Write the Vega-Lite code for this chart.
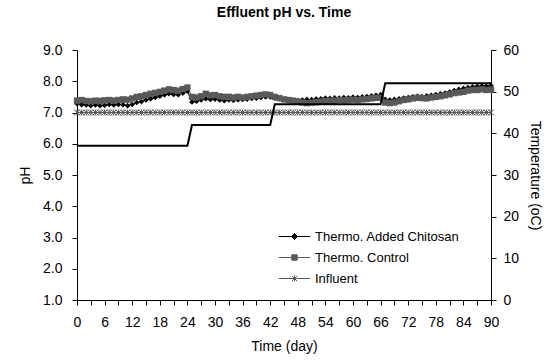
{
  "$schema": "https://vega.github.io/schema/vega-lite/v6.json",
  "width": 414,
  "height": 250,
  "autosize": "none",
  "padding": {"left": 77, "top": 50, "right": 54, "bottom": 62},
  "background": "white",
  "title": {"text": "Effluent pH vs. Time", "font": "Liberation Sans", "fontSize": 14, "fontWeight": "bold", "color": "black", "offset": 23, "anchor": "middle"},
  "config": {
    "view": {"stroke": null},
    "axis": {"labelFont": "Liberation Sans", "titleFont": "Liberation Sans", "labelFontSize": 14, "titleFontSize": 14, "titleFontWeight": "normal", "labelColor": "black", "titleColor": "black", "domainColor": "black", "tickColor": "black", "grid": false, "domainWidth": 1, "tickWidth": 1}
  },
  "datasets": {
    "ph": [
      {"day":0,"c":7.28,"k":7.38,"i":7.0},{"day":1,"c":7.25,"k":7.40,"i":7.0},{"day":2,"c":7.24,"k":7.37,"i":7.0},{"day":3,"c":7.22,"k":7.36,"i":7.0},{"day":4,"c":7.24,"k":7.38,"i":7.0},{"day":5,"c":7.22,"k":7.37,"i":7.0},{"day":6,"c":7.23,"k":7.39,"i":7.0},{"day":7,"c":7.26,"k":7.40,"i":7.0},{"day":8,"c":7.24,"k":7.38,"i":7.0},{"day":9,"c":7.26,"k":7.40,"i":7.0},
      {"day":10,"c":7.25,"k":7.42,"i":7.0},{"day":11,"c":7.22,"k":7.41,"i":7.0},{"day":12,"c":7.26,"k":7.45,"i":7.0},{"day":13,"c":7.32,"k":7.50,"i":7.0},{"day":14,"c":7.35,"k":7.52,"i":7.0},{"day":15,"c":7.40,"k":7.56,"i":7.0},{"day":16,"c":7.44,"k":7.60,"i":7.0},{"day":17,"c":7.48,"k":7.63,"i":7.0},{"day":18,"c":7.52,"k":7.66,"i":7.0},{"day":19,"c":7.56,"k":7.70,"i":7.0},
      {"day":20,"c":7.60,"k":7.74,"i":7.0},{"day":21,"c":7.58,"k":7.72,"i":7.0},{"day":22,"c":7.57,"k":7.70,"i":7.0},{"day":23,"c":7.62,"k":7.75,"i":7.0},{"day":24,"c":7.68,"k":7.80,"i":7.0},{"day":25,"c":7.34,"k":7.50,"i":7.0},{"day":26,"c":7.36,"k":7.48,"i":7.0},{"day":27,"c":7.40,"k":7.52,"i":7.0},{"day":28,"c":7.44,"k":7.60,"i":7.0},{"day":29,"c":7.42,"k":7.55,"i":7.0},
      {"day":30,"c":7.43,"k":7.56,"i":7.0},{"day":31,"c":7.40,"k":7.52,"i":7.0},{"day":32,"c":7.38,"k":7.50,"i":7.0},{"day":33,"c":7.40,"k":7.50,"i":7.0},{"day":34,"c":7.39,"k":7.48,"i":7.0},{"day":35,"c":7.41,"k":7.50,"i":7.0},{"day":36,"c":7.42,"k":7.48,"i":7.0},{"day":37,"c":7.43,"k":7.50,"i":7.0},{"day":38,"c":7.45,"k":7.52,"i":7.0},{"day":39,"c":7.46,"k":7.54,"i":7.0},
      {"day":40,"c":7.48,"k":7.56,"i":7.0},{"day":41,"c":7.50,"k":7.58,"i":7.0},{"day":42,"c":7.50,"k":7.56,"i":7.0},{"day":43,"c":7.46,"k":7.50,"i":7.0},{"day":44,"c":7.44,"k":7.46,"i":7.0},{"day":45,"c":7.42,"k":7.42,"i":7.0},{"day":46,"c":7.40,"k":7.40,"i":7.0},{"day":47,"c":7.39,"k":7.38,"i":7.0},{"day":48,"c":7.38,"k":7.35,"i":7.0},{"day":49,"c":7.40,"k":7.32,"i":7.0},
      {"day":50,"c":7.42,"k":7.30,"i":7.0},{"day":51,"c":7.41,"k":7.32,"i":7.0},{"day":52,"c":7.43,"k":7.33,"i":7.0},{"day":53,"c":7.44,"k":7.35,"i":7.0},{"day":54,"c":7.46,"k":7.36,"i":7.0},{"day":55,"c":7.45,"k":7.38,"i":7.0},{"day":56,"c":7.47,"k":7.38,"i":7.0},{"day":57,"c":7.46,"k":7.40,"i":7.0},{"day":58,"c":7.48,"k":7.39,"i":7.0},{"day":59,"c":7.47,"k":7.40,"i":7.0},
      {"day":60,"c":7.49,"k":7.41,"i":7.0},{"day":61,"c":7.48,"k":7.40,"i":7.0},{"day":62,"c":7.50,"k":7.42,"i":7.0},{"day":63,"c":7.51,"k":7.43,"i":7.0},{"day":64,"c":7.53,"k":7.45,"i":7.0},{"day":65,"c":7.55,"k":7.47,"i":7.0},{"day":66,"c":7.57,"k":7.48,"i":7.0},{"day":67,"c":7.42,"k":7.32,"i":7.0},{"day":68,"c":7.40,"k":7.30,"i":7.0},{"day":69,"c":7.42,"k":7.32,"i":7.0},
      {"day":70,"c":7.44,"k":7.36,"i":7.0},{"day":71,"c":7.46,"k":7.40,"i":7.0},{"day":72,"c":7.48,"k":7.42,"i":7.0},{"day":73,"c":7.50,"k":7.45,"i":7.0},{"day":74,"c":7.52,"k":7.47,"i":7.0},{"day":75,"c":7.51,"k":7.46,"i":7.0},{"day":76,"c":7.53,"k":7.45,"i":7.0},{"day":77,"c":7.55,"k":7.48,"i":7.0},{"day":78,"c":7.57,"k":7.50,"i":7.0},{"day":79,"c":7.60,"k":7.52,"i":7.0},
      {"day":80,"c":7.62,"k":7.55,"i":7.0},{"day":81,"c":7.66,"k":7.58,"i":7.0},{"day":82,"c":7.70,"k":7.62,"i":7.0},{"day":83,"c":7.74,"k":7.64,"i":7.0},{"day":84,"c":7.77,"k":7.66,"i":7.0},{"day":85,"c":7.80,"k":7.70,"i":7.0},{"day":86,"c":7.82,"k":7.72,"i":7.0},{"day":87,"c":7.84,"k":7.72,"i":7.0},{"day":88,"c":7.85,"k":7.74,"i":7.0},{"day":89,"c":7.84,"k":7.72,"i":7.0},
      {"day":90,"c":7.86,"k":7.73,"i":7.0}
    ],
    "temp": [
      {"day":0,"T":37},{"day":24,"T":37},{"day":25,"T":42},{"day":42,"T":42},{"day":43,"T":47},{"day":66,"T":47},{"day":67,"T":52},{"day":90,"T":52}
    ]
  },
  "layer": [
    {
      "data": {"name": "ph"},
      "transform": [{"fold": ["c", "k", "i"], "as": ["s", "pH"]}],
      "encoding": {
        "x": {"field": "day", "type": "quantitative", "scale": {"domain": [0, 90], "nice": false, "zero": false},
              "axis": {"title": "Time (day)", "values": [0,3,6,9,12,15,18,21,24,27,30,33,36,39,42,45,48,51,54,57,60,63,66,69,72,75,78,81,84,87,90], "labelExpr": "datum.value % 6 == 0 ? datum.label : ''", "labelOverlap": false, "labelFlush": false, "tickSize": 5, "labelPadding": 10, "titlePadding": 10}},
        "y": {"field": "pH", "type": "quantitative", "scale": {"domain": [1, 9], "nice": false, "zero": false},
              "axis": {"title": "pH", "values": [1,2,3,4,5,6,7,8,9], "format": ".1f", "tickSize": 5, "labelPadding": 10, "titlePadding": 10}}
      },
      "layer": [
        {
          "mark": {"type": "line", "strokeWidth": 1},
          "encoding": {
            "color": {"field": "s", "type": "nominal",
              "scale": {"domain": ["c", "k", "i"], "range": ["black", "#595959", "#595959"]},
              "legend": {
                "orient": "none", "legendX": 211, "legendY": 180, "title": null, "padding": 0,
                "labelExpr": "datum.value == 'c' ? 'Thermo. Added Chitosan' : datum.value == 'k' ? 'Thermo. Control' : 'Influent'",
                "labelFont": "Liberation Sans", "labelFontSize": 13, "labelColor": "black", "labelOffset": 14,
                "symbolSize": 36, "rowPadding": 7,
                "encode": {"symbols": {"update": {
                  "shape": {"signal": "datum.value == 'c' ? 'M-5.3,0H5.3M0,-1L1,0L0,1L-1,0Z' : datum.value == 'k' ? 'M-5.3,0H5.3M-0.9,-0.9H0.9V0.9H-0.9Z' : 'M-5.3,0H5.3M-0.9,-0.9L0.9,0.9M-0.9,0.9L0.9,-0.9M0,-1V1'"},
                  "fill": {"signal": "datum.value == 'c' ? 'black' : datum.value == 'k' ? '#595959' : 'transparent'"},
                  "stroke": {"signal": "datum.value == 'c' ? 'black' : '#333333'"},
                  "strokeWidth": {"value": 1},
                  "size": {"value": 36},
                  "opacity": {"value": 1}
                }}}
              }
            }
          }
        },
        {
          "transform": [{"filter": "datum.s == 'c'"}],
          "mark": {"type": "point", "shape": "diamond", "filled": true, "color": "black", "size": 32, "opacity": 1}
        },
        {
          "transform": [{"filter": "datum.s == 'k'"}],
          "mark": {"type": "point", "shape": "square", "filled": true, "color": "#595959", "size": 40, "opacity": 1}
        },
        {
          "transform": [{"filter": "datum.s == 'i'"}],
          "mark": {"type": "point", "shape": "M-1,-1L1,1M-1,1L1,-1M0,-1V1", "filled": false, "stroke": "#505050", "strokeWidth": 1, "size": 34, "opacity": 1}
        }
      ]
    },
    {
      "data": {"name": "temp"},
      "mark": {"type": "line", "color": "black", "strokeWidth": 2},
      "encoding": {
        "x": {"field": "day", "type": "quantitative", "scale": {"domain": [0, 90], "nice": false, "zero": false},
              "axis": {"title": "Time (day)", "values": [0,3,6,9,12,15,18,21,24,27,30,33,36,39,42,45,48,51,54,57,60,63,66,69,72,75,78,81,84,87,90], "labelExpr": "datum.value % 6 == 0 ? datum.label : ''", "labelOverlap": false, "labelFlush": false, "tickSize": 5, "labelPadding": 10, "titlePadding": 10}},
        "y": {"field": "T", "type": "quantitative", "scale": {"domain": [0, 60], "nice": false, "zero": false},
              "axis": {"orient": "right", "title": "Temperature (oC)", "values": [0,10,20,30,40,50,60], "tickSize": 5, "labelPadding": 7, "titlePadding": 9}}
      }
    }
  ],
  "resolve": {"scale": {"y": "independent"}}
}
